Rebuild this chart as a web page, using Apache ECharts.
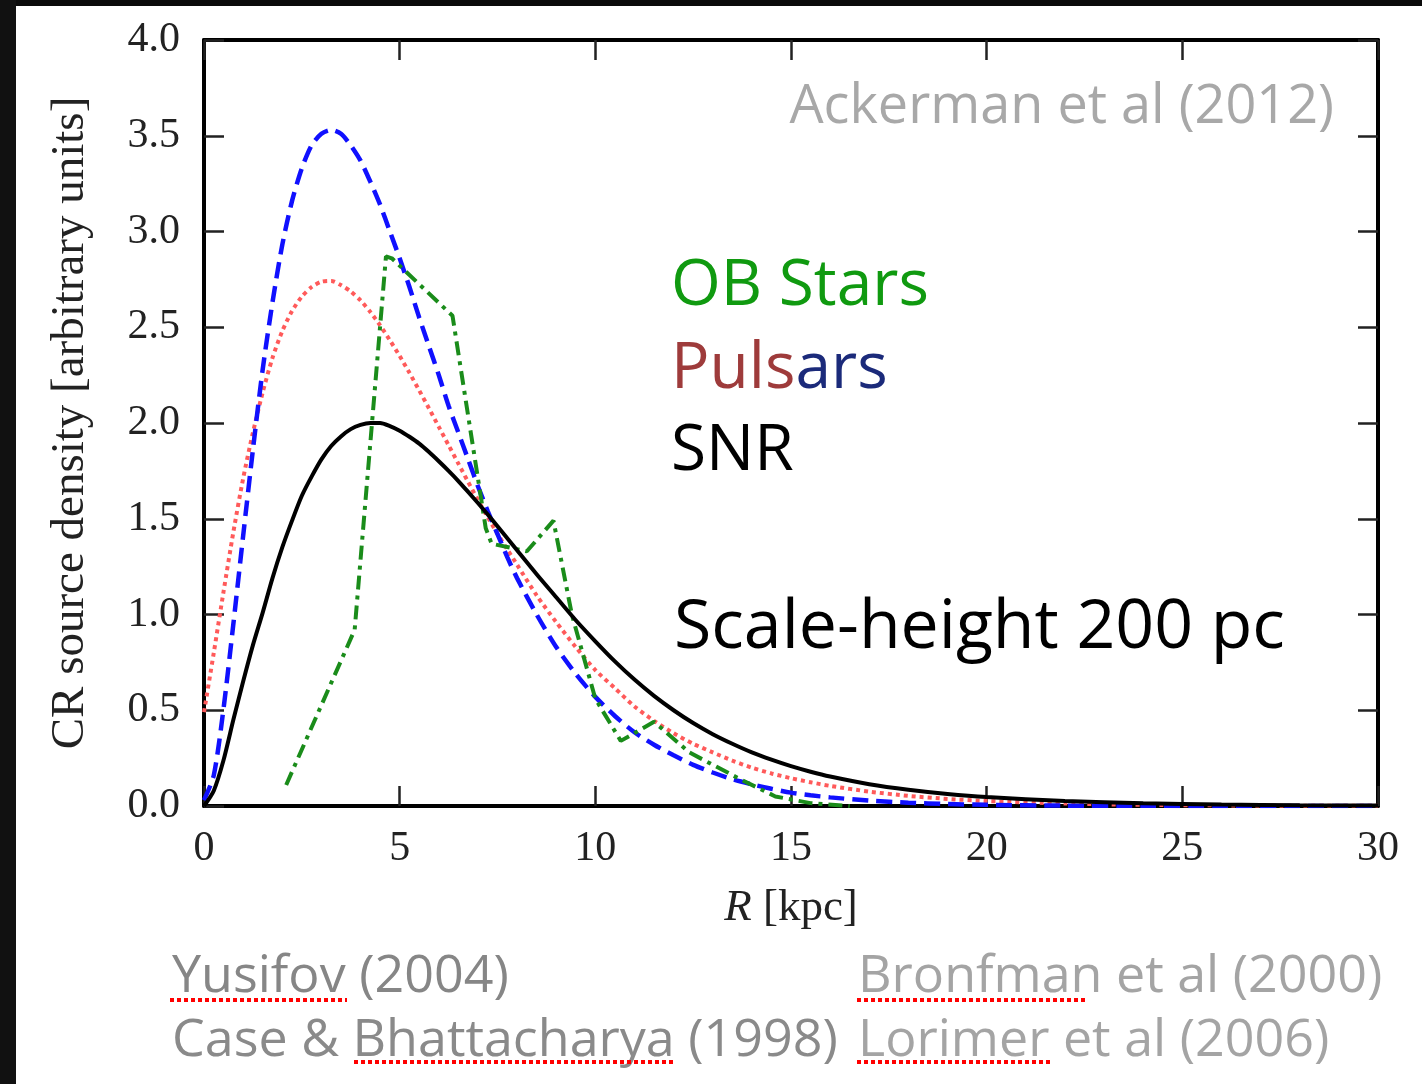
<!DOCTYPE html>
<html>
<head>
<meta charset="utf-8">
<script src="https://cdn.jsdelivr.net/npm/echarts@6/dist/echarts.min.js"></script>
<style>
html,body{margin:0;padding:0;background:#ffffff;}
#main{width:1422px;height:1084px;}
</style>
</head>
<body>
<div id="main"></div>
<script>
// ---- data ----
const xTickValues = [0, 5, 10, 15, 20, 25, 30];
const yTickLabels = ['0.0','0.5','1.0','1.5','2.0','2.5','3.0','3.5','4.0'];

// radius grid (kpc) shared by the three smooth models
const radius = [0,0.25,0.5,0.75,1,1.25,1.5,1.75,2,2.25,2.5,2.75,3,3.25,3.5,3.75,4,4.25,4.5,4.75,5,5.25,5.5,5.75,6,6.25,6.5,6.75,7,7.25,7.5,7.75,8,
  8.5,9,9.5,10,10.5,11,11.5,12,12.5,13,13.5,14,14.5,15,15.5,16,
  17,18,19,20,
  22,24,26,28,30];

// SNR (Case & Bhattacharya 1998) - black solid
const snrValues = [0,0.08,0.24,0.45,0.65,0.84,1.01,1.19,1.35,1.49,1.62,1.72,1.81,1.88,1.93,1.968,1.99,2.0,2.0,1.984,1.96,1.928,1.892,1.848,1.80,1.75,1.697,1.64,1.582,1.522,1.461,1.398,1.335,
  1.21,1.09,0.97,0.86,0.755,0.66,0.575,0.50,0.433,0.375,0.325,0.28,0.242,0.208,0.179,0.154,
  0.114,0.085,0.063,0.047,
  0.026,0.014,0.0075,0.004,0.002];

// Pulsars (Yusifov 2004) - red dotted
const yusifovValues = [0.49,0.80,1.12,1.43,1.71,1.95,2.16,2.34,2.48,2.585,2.66,2.71,2.738,2.742,2.72,2.687,2.64,2.58,2.51,2.432,2.35,2.262,2.17,2.076,1.98,1.884,1.788,1.692,1.598,1.508,1.422,1.34,1.26,
  1.10,0.96,0.83,0.71,0.615,0.52,0.445,0.38,0.325,0.28,0.237,0.20,0.17,0.145,0.124,0.105,
  0.075,0.053,0.037,0.026,
  0.013,0.006,0.003,0.0015,0.0007];

// Pulsars (Lorimer et al 2006) - blue dashed
const lorimerValues = [0.03,0.16,0.51,0.95,1.41,1.86,2.28,2.63,2.93,3.16,3.33,3.45,3.51,3.53,3.51,3.45,3.37,3.26,3.14,3.00,2.86,2.71,2.55,2.40,2.25,2.09,1.95,1.81,1.67,1.54,1.42,1.30,1.19,
  1.00,0.83,0.69,0.57,0.47,0.385,0.32,0.265,0.215,0.175,0.14,0.113,0.09,0.07,0.056,0.045,
  0.028,0.017,0.010,0.006,
  0.002,0.001,0,0,0];

// OB stars (Bronfman et al 2000) - green dash-dot, piecewise
const bronfmanR = [2.1,3.85,4.65,4.8,6.35,7.2,7.35,8.25,8.93,9.4,10.0,10.65,11.5,12.4,13.7,14.6,15.5,16.5];
const bronfmanValues = [0.11,0.92,2.87,2.86,2.56,1.45,1.37,1.33,1.49,1.0,0.56,0.34,0.44,0.28,0.14,0.05,0.015,0.0];

function zip(xs, ys){ return xs.map((x,i)=>[x, ys[i]]); }

const serifFont = "'Liberation Serif','DejaVu Serif',serif";
const sansFont = "'Open Sans','Noto Sans',sans-serif";

const chart = echarts.init(document.getElementById('main'), null, {renderer:'canvas'});

const axisLineStyle = {color:'#000', width:4};
const tickStyle = {color:'#222', width:2.5};

const option = {
  animation:false,
  backgroundColor:'#ffffff',
  grid:{left:204, right:44, top:40, bottom:278, containLabel:false},
  xAxis:[
    {
      type:'value', min:0, max:30, interval:5, position:'bottom',
      axisLine:{show:true, onZero:false, lineStyle:axisLineStyle},
      axisTick:{show:true, inside:true, length:20, lineStyle:tickStyle},
      splitLine:{show:false},
      axisLabel:{show:true, margin:22, color:'#222', fontFamily:serifFont, fontSize:42,
        formatter:(v)=> xTickValues.includes(v) ? String(v) : ''},
      name:'{i|R} [kpc]', nameLocation:'middle', nameGap:80,
      nameTextStyle:{color:'#222', fontFamily:serifFont, fontSize:45,
        rich:{i:{fontStyle:'italic', fontFamily:serifFont, fontSize:45, color:'#222'}}}
    },
    {
      type:'value', min:0, max:30, interval:5, position:'top',
      axisLine:{show:true, onZero:false, lineStyle:axisLineStyle},
      axisTick:{show:true, inside:true, length:20, lineStyle:tickStyle},
      splitLine:{show:false}, axisLabel:{show:false}
    }
  ],
  yAxis:[
    {
      type:'value', min:0, max:4, interval:0.5, position:'left',
      axisLine:{show:true, onZero:false, lineStyle:axisLineStyle},
      axisTick:{show:true, inside:true, length:20, lineStyle:tickStyle},
      splitLine:{show:false},
      axisLabel:{show:true, margin:24, color:'#222', fontFamily:serifFont, fontSize:42,
        formatter:(v)=> yTickLabels[Math.round(v*2)]},
      name:'CR source density [arbitrary units]', nameLocation:'middle', nameGap:110, nameRotate:90,
      nameTextStyle:{color:'#222', fontFamily:serifFont, fontSize:47}
    },
    {
      type:'value', min:0, max:4, interval:0.5, position:'right',
      axisLine:{show:true, onZero:false, lineStyle:axisLineStyle},
      axisTick:{show:true, inside:true, length:20, lineStyle:tickStyle},
      splitLine:{show:false}, axisLabel:{show:false}
    }
  ],
  series:[
    {
      name:'Yusifov (2004)', type:'line', xAxisIndex:0, yAxisIndex:0,
      data:zip(radius, yusifovValues), showSymbol:false, smooth:0.25,
      lineStyle:{color:'#ff5a5a', width:4, type:[4,4], cap:'butt'}
    },
    {
      name:'Lorimer et al (2006)', type:'line', xAxisIndex:0, yAxisIndex:0,
      data:zip(radius, lorimerValues), showSymbol:false, smooth:0.25,
      lineStyle:{color:'#1010ff', width:4.5, type:[16,8], cap:'butt'}
    },
    {
      name:'Bronfman et al (2000)', type:'line', xAxisIndex:0, yAxisIndex:0,
      data:zip(bronfmanR, bronfmanValues), showSymbol:false, smooth:false,
      lineStyle:{color:'#1a8c1a', width:4, type:[14,6,4,6], cap:'butt'}
    },
    {
      name:'Case & Bhattacharya (1998)', type:'line', xAxisIndex:0, yAxisIndex:0,
      data:zip(radius, snrValues), showSymbol:false, smooth:0.25,
      lineStyle:{color:'#000000', width:4, type:'solid'}
    }
  ],
  graphic:[
    {type:'rect', shape:{x:0,y:0,width:1422,height:6}, style:{fill:'#0b0b0b'}, silent:true},
    {type:'rect', shape:{x:0,y:0,width:16,height:1084}, style:{fill:'#111111'}, silent:true},

    {type:'text', x:1334, y:108, style:{text:'Ackerman et al (2012)', fill:'#a8a8a8',
      font:'54px '+sansFont, align:'right', verticalAlign:'middle'}},

    {type:'text', x:671, y:287, style:{text:'OB Stars', fill:'#109a10',
      font:'64px '+sansFont, align:'left', verticalAlign:'middle'}},
    {type:'text', x:671, y:370, style:{text:'{a|Puls}{b|ars}', font:'64px '+sansFont,
      align:'left', verticalAlign:'middle',
      rich:{a:{fill:'#9e3b3b', fontSize:64, fontFamily:sansFont}, b:{fill:'#1b2a7a', fontSize:64, fontFamily:sansFont}}}},
    {type:'text', x:671, y:452, style:{text:'SNR', fill:'#000000',
      font:'64px '+sansFont, align:'left', verticalAlign:'middle'}},
    {type:'text', x:674, y:629, style:{text:'Scale-height 200 pc', fill:'#000000',
      font:'68px '+sansFont, align:'left', verticalAlign:'middle'}},

    {type:'text', x:172, y:977, style:{text:'Yusifov (2004)', fill:'#868686',
      font:'52px '+sansFont, align:'left', verticalAlign:'middle'}},
    {type:'text', x:172, y:1041, style:{text:'Case & Bhattacharya (1998)', fill:'#8a8a8a',
      font:'52px '+sansFont, align:'left', verticalAlign:'middle'}},
    {type:'text', x:858, y:977, style:{text:'Bronfman et al (2000)', fill:'#a4a4a4',
      font:'52px '+sansFont, align:'left', verticalAlign:'middle'}},
    {type:'text', x:858, y:1041, style:{text:'Lorimer et al (2006)', fill:'#a4a4a4',
      font:'52px '+sansFont, align:'left', verticalAlign:'middle'}},

    {type:'line', shape:{x1:170,y1:1000,x2:347,y2:1000}, style:{stroke:'#ff0000', lineWidth:4, lineDash:[4,3]}},
    {type:'line', shape:{x1:857,y1:1000,x2:1086,y2:1000}, style:{stroke:'#ff0000', lineWidth:4, lineDash:[4,3]}},
    {type:'line', shape:{x1:354,y1:1062,x2:675,y2:1062}, style:{stroke:'#ff0000', lineWidth:4, lineDash:[4,3]}},
    {type:'line', shape:{x1:857,y1:1062,x2:1053,y2:1062}, style:{stroke:'#ff0000', lineWidth:4, lineDash:[4,3]}}
  ]
};
chart.setOption(option);
</script>
</body>
</html>
